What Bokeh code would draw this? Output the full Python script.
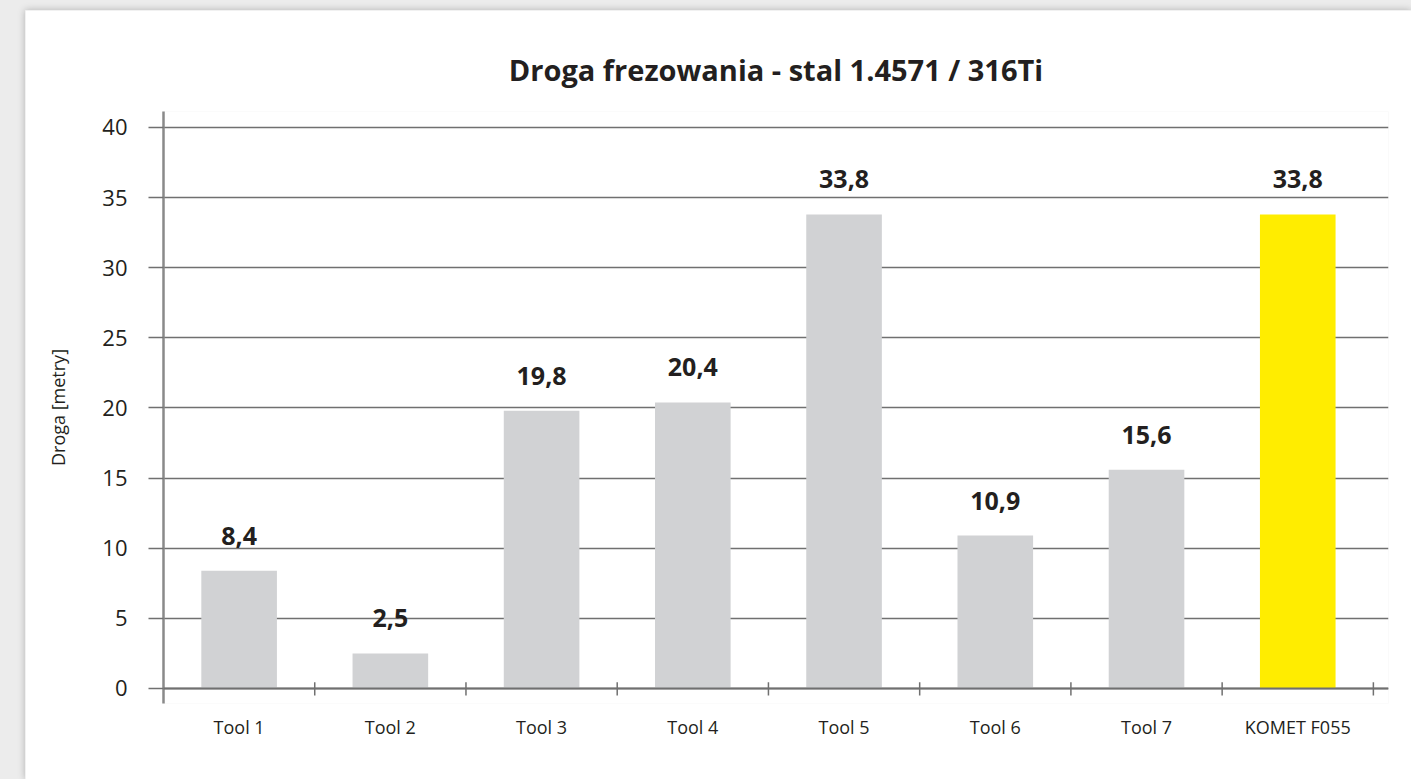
from bokeh.plotting import figure
from bokeh.models import (ColumnDataSource, Range1d, LinearAxis, FixedTicker, Span, Title)
from bokeh.layouts import column
from bokeh.core.properties import value
from bokeh.embed import file_html
from bokeh.resources import INLINE

# ---- data ----
categories = ["Tool 1", "Tool 2", "Tool 3", "Tool 4", "Tool 5", "Tool 6", "Tool 7", "KOMET F055"]
distances = [8.4, 2.5, 19.8, 20.4, 33.8, 10.9, 15.6, 33.8]
bar_colors = ["#d1d2d4"] * 7 + ["#ffed00"]
y_ticks = [0, 5, 10, 15, 20, 25, 30, 35, 40]

title_text = "Droga frezowania - stal 1.4571 / 316Ti"
y_label = "Droga [metry]"

centers = [i + 0.5 for i in range(len(categories))]
labels = [f"{v:.1f}".replace(".", ",") for v in distances]
boundaries = [i + 1 for i in range(len(categories))]

src = ColumnDataSource(dict(x=centers, top=distances, color=bar_colors, label=labels))

FONT = "Open Sans"
TXT = "#231f20"
GRID = "#707070"

p = figure(width=1386, height=769, output_backend="svg", toolbar_location=None,
           x_range=Range1d(0, 8.1), y_range=Range1d(-1.07, 41.14),
           min_border_left=138, min_border_right=23, min_border_top=101, min_border_bottom=76,
           background_fill_color="white", border_fill_color="white", outline_line_color=None,
           x_axis_location=None, y_axis_location=None)

p.title = Title(text=title_text, align="center", text_font=FONT, text_font_size="29px",
                text_font_style="bold", text_color=TXT, standoff=46)

# y axis
yax = LinearAxis(ticker=FixedTicker(ticks=y_ticks))
yax.axis_line_color = "#8a8a8a"
yax.axis_line_width = 2.5
yax.major_tick_out = 15
yax.major_tick_in = 0
yax.major_tick_line_color = GRID
yax.major_tick_line_width = 1.3
yax.minor_tick_line_color = None
yax.major_label_text_font = FONT
yax.major_label_text_font_size = "22px"
yax.major_label_text_color = TXT
yax.major_label_standoff = 21
yax.axis_label = y_label
yax.axis_label_text_font = FONT
yax.axis_label_text_font_size = "18px"
yax.axis_label_text_font_style = "normal"
yax.axis_label_text_color = TXT
yax.axis_label_standoff = 29
p.add_layout(yax, "left")

# x axis (labels only)
xax = LinearAxis(ticker=FixedTicker(ticks=centers))
xax.major_label_overrides = {c: n for c, n in zip(centers, categories)}
xax.axis_line_color = None
xax.major_tick_line_color = None
xax.minor_tick_line_color = None
xax.major_label_text_font = FONT
xax.major_label_text_font_size = "18px"
xax.major_label_text_color = TXT
xax.major_label_standoff = 5
p.add_layout(xax, "below")

p.ygrid.ticker = FixedTicker(ticks=y_ticks)
p.ygrid.grid_line_color = GRID
p.ygrid.grid_line_width = 1.3
p.xgrid.grid_line_color = None

p.vbar(x="x", top="top", bottom=0, width=0.5, color="color", line_color=None, source=src)

# x axis line and category separator ticks
p.add_layout(Span(location=0, dimension="width", line_color=GRID, line_width=2))
p.segment(x0=boundaries, x1=boundaries, y0=[-0.5] * len(boundaries), y1=[0.45] * len(boundaries),
          line_color=GRID, line_width=1.5)

p.text(x="x", y="top", text="label", source=src, text_align="center", text_baseline="alphabetic",
       y_offset=-35, text_font=value(FONT), text_font_style="bold", text_font_size="25px",
       text_color=TXT)

p.styles = {"box-shadow": "0 0 7px rgba(0,0,0,0.25)"}

layout = column(p, styles={"background-color": "#ececec", "padding-left": "25px", "padding-top": "10px"})

open("out.html", "w").write(file_html(layout, INLINE))
